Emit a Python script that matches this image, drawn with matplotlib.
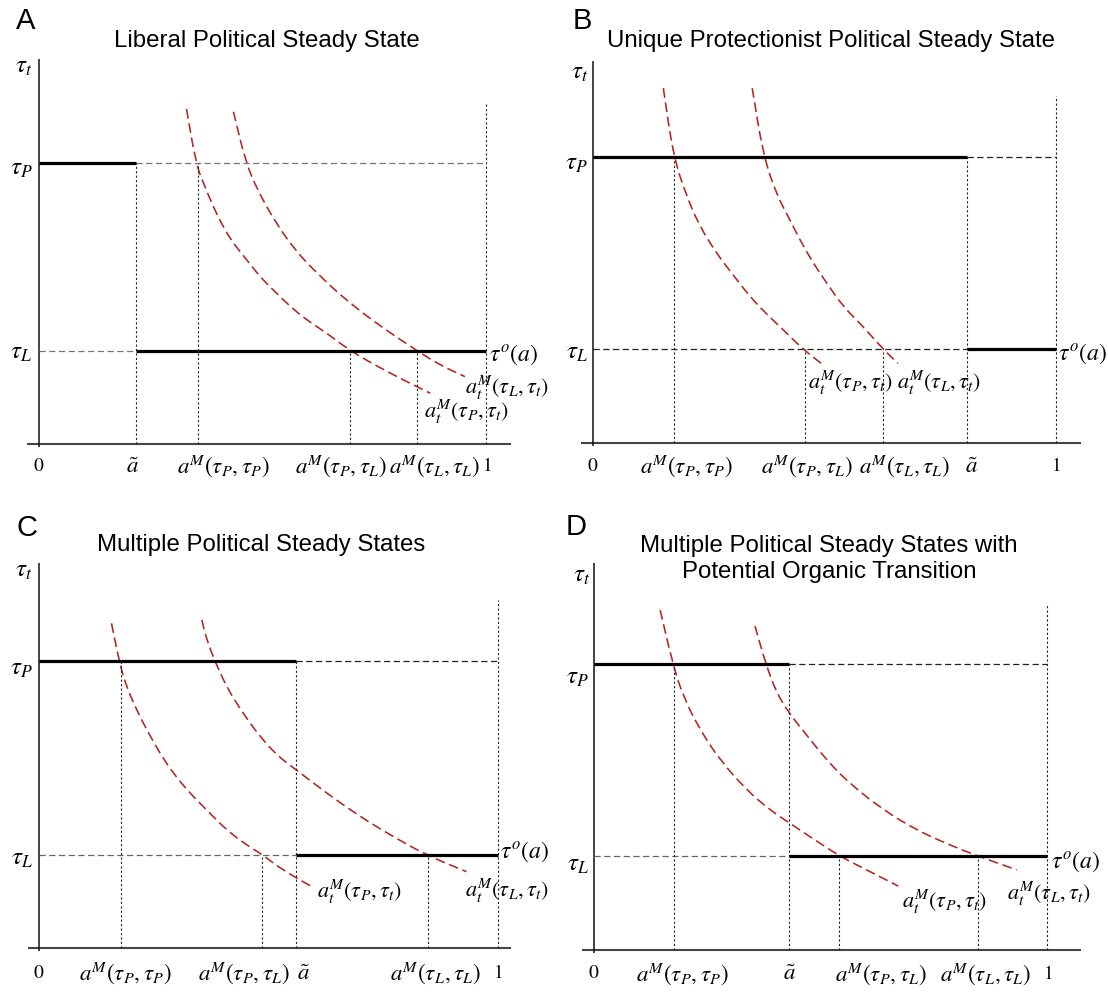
import matplotlib
matplotlib.use("Agg")
import matplotlib.pyplot as plt
from matplotlib.path import Path
from matplotlib.patches import PathPatch

plt.rcParams['mathtext.fontset'] = 'stix'
plt.rcParams['font.family'] = ['Liberation Sans', 'DejaVu Sans']
plt.rcParams['lines.scale_dashes'] = False

# ------------------------------------------------------------------ data
letters = ["A", "B", "C", "D"]
titles = ["Liberal Political Steady State",
          "Unique Protectionist Political Steady State",
          "Multiple Political Steady States",
          "Multiple Political Steady States with\nPotential Organic Transition"]

# levels (share of axis height) and thresholds (share of unit interval)
tau_P = [0.730, 0.750, 0.745, 0.738]
tau_L = [0.242, 0.246, 0.242, 0.242]
a_tilde = [0.217, 0.808, 0.560, 0.431]
a_PP = [0.356, 0.176, 0.178, 0.177]
a_PL = [0.696, 0.458, 0.486, 0.542]
a_LL = [0.846, 0.628, 0.847, 0.847]
one_top = [0.883, 0.909, 0.905, 0.895]

# a_t^M(tau_P, tau_t) and a_t^M(tau_L, tau_t) curves
curveP_x_A = [0.330, 0.351, 0.368, 0.390, 0.412, 0.435, 0.465, 0.494, 0.524, 0.562,
              0.599, 0.644, 0.696, 0.778, 0.875]
curveP_y_A = [0.870, 0.729, 0.677, 0.616, 0.564, 0.521, 0.478, 0.435, 0.400, 0.357,
              0.322, 0.288, 0.242, 0.188, 0.132]
curveL_x_A = [0.435, 0.463, 0.491, 0.524, 0.569, 0.629, 0.696, 0.770, 0.846, 0.897, 0.953]
curveL_y_A = [0.863, 0.729, 0.655, 0.586, 0.508, 0.435, 0.365, 0.301, 0.242, 0.205, 0.175]

curveP_x_B = [0.153, 0.1745, 0.2035, 0.232, 0.268, 0.304, 0.340, 0.376, 0.412, 0.455, 0.4985]
curveP_y_B = [0.929, 0.752, 0.645, 0.567, 0.497, 0.440, 0.384, 0.338, 0.297, 0.246, 0.205]
curveL_x_B = [0.345, 0.369, 0.398, 0.419, 0.448, 0.477, 0.506, 0.542, 0.578, 0.628, 0.660]
curveL_y_B = [0.929, 0.752, 0.650, 0.602, 0.532, 0.471, 0.419, 0.357, 0.314, 0.246, 0.209]

curveP_x_C = [0.158, 0.1766, 0.191, 0.213, 0.235, 0.264, 0.293, 0.329, 0.366, 0.409,
              0.453, 0.486, 0.529, 0.595]
curveP_y_C = [0.844, 0.736, 0.679, 0.619, 0.567, 0.506, 0.454, 0.403, 0.359, 0.307,
              0.268, 0.244, 0.205, 0.160]
curveL_x_C = [0.355, 0.3656, 0.387, 0.409, 0.431, 0.453, 0.482, 0.518, 0.559, 0.627,
              0.700, 0.772, 0.845, 0.932]
curveL_y_C = [0.853, 0.801, 0.736, 0.680, 0.636, 0.597, 0.550, 0.502, 0.465, 0.403,
              0.342, 0.290, 0.242, 0.199]

curveP_x_D = [0.147, 0.175, 0.198, 0.235, 0.279, 0.338, 0.389, 0.431, 0.477, 0.542, 0.602, 0.672]
curveP_y_D = [0.878, 0.738, 0.654, 0.568, 0.490, 0.412, 0.361, 0.328, 0.292, 0.242, 0.206, 0.164]
curveL_x_D = [0.356, 0.380, 0.404, 0.431, 0.463, 0.514, 0.565, 0.639, 0.712, 0.786, 0.847, 0.933]
curveL_y_D = [0.837, 0.738, 0.663, 0.612, 0.565, 0.490, 0.429, 0.361, 0.309, 0.270, 0.242, 0.206]

AM = r'$a^{M}(\tau_{P},\tau_{P})$'
APL = r'$a^{M}(\tau_{P},\tau_{L})$'
ALL = r'$a^{M}(\tau_{L},\tau_{L})$'
AT = r'$\tilde{a}$'
tick_labels = [["$0$", AT, AM, APL, ALL, "$1$"],
               ["$0$", AM, APL, ALL, AT, "$1$"],
               ["$0$", AM, APL, AT, ALL, "$1$"],
               ["$0$", AM, AT, APL, ALL, "$1$"]]

curves = [(curveP_x_A, curveP_y_A, curveL_x_A, curveL_y_A),
          (curveP_x_B, curveP_y_B, curveL_x_B, curveL_y_B),
          (curveP_x_C, curveP_y_C, curveL_x_C, curveL_y_C),
          (curveP_x_D, curveP_y_D, curveL_x_D, curveL_y_D)]

# ------------------------------------------------------------------ layout
FW, FH = 1108, 994
# origin x (px), px per unit x, baseline y (px), px per unit y
frames = [(39.0, 447.0, 444.0, 385.0),
          (592.5, 463.0, 443.4, 382.4),
          (39.0, 458.7, 948.3, 385.0),
          (593.5, 453.6, 949.5, 386.5)]
XL = (-0.12, 1.17)
YL = (-0.14, 1.05)

tick_pos = [[0, 0.210, 0.412, 0.676, 0.884, 1.002],
            [0, 0.203, 0.464, 0.674, 0.818, 1.000],
            [0, 0.188, 0.447, 0.576, 0.865, 1.001],
            [0, 0.195, 0.432, 0.634, 0.864, 1.002]]
tick_y = [-0.058, -0.060, -0.065, -0.063]
tau_lab = [[(-0.034, 0.982), (-0.040, 0.717), (-0.040, 0.239)],
           [(-0.027, 0.971), (-0.034, 0.733), (-0.034, 0.240)],
           [(-0.033, 0.983), (-0.038, 0.727), (-0.038, 0.234)],
           [(-0.027, 0.970), (-0.035, 0.706), (-0.035, 0.222)]]
tau_o_pos = [(1.007, 0.231), (1.005, 0.235), (1.005, 0.250), (1.008, 0.226)]
curve_lab = [[(0.861, 0.083), (0.953, 0.145)],
             [(0.465, 0.158), (0.657, 0.158)],
             [(0.605, 0.147), (0.929, 0.150)],
             [(0.681, 0.123), (0.911, 0.144)]]
xaxis_ext = [(-0.027, 1.056), (-0.024, 1.055), (-0.023, 1.029), (-0.025, 1.074)]
dashP_col = ['#777777', '#222222', '#222222', '#222222']
dashL_col = ['#777777', '#222222', '#666666', '#666666']
letter_px = [(26, 21), (582, 21), (27, 528), (576, 527)]
title_px = [(267, 41), (831, 41), (261, 545), (829, 559)]

RED = '#b3261e'


def smooth_path(xs, ys):
    """Quadratic B-spline path through the midpoints of the read points."""
    pts = list(zip(xs, ys))
    verts = [pts[0]]
    codes = [Path.MOVETO]
    mid = ((pts[0][0] + pts[1][0]) / 2, (pts[0][1] + pts[1][1]) / 2)
    verts.append(mid)
    codes.append(Path.LINETO)
    for k in range(1, len(pts) - 1):
        nxt = ((pts[k][0] + pts[k + 1][0]) / 2, (pts[k][1] + pts[k + 1][1]) / 2)
        verts += [pts[k], nxt]
        codes += [Path.CURVE3, Path.CURVE3]
    verts.append(pts[-1])
    codes.append(Path.LINETO)
    return Path(verts, codes)


fig = plt.figure(figsize=(FW / 100, FH / 100), dpi=100)

for i in range(4):
    ox, sx, by, sy = frames[i]
    left = (ox + XL[0] * sx) / FW
    width = (XL[1] - XL[0]) * sx / FW
    bottom = 1 - (by - YL[0] * sy) / FH
    height = (YL[1] - YL[0]) * sy / FH
    ax = fig.add_axes([left, bottom, width, height])
    ax.set_xlim(*XL)
    ax.set_ylim(*YL)
    ax.axis('off')

    tp, tl, at = tau_P[i], tau_L[i], a_tilde[i]
    # axes
    ax.plot(list(xaxis_ext[i]), [0, 0], color='#444444', lw=1.5, solid_capstyle='butt')
    ax.plot([0, 0], [-0.008, 1.0], color='#111111', lw=1.1, solid_capstyle='butt')
    # dashed level guides
    ax.plot([at, 1], [tp, tp], color=dashP_col[i], lw=0.9, dashes=(4.5, 2.5))
    ax.plot([0, at], [tl, tl], color=dashL_col[i], lw=0.9, dashes=(4.5, 2.5))
    # vertical dotted guides
    dot = dict(color='#222222', lw=0.8, dashes=(1.6, 1.6))
    ax.plot([at, at], [0, tp], **dot)
    ax.plot([a_PP[i], a_PP[i]], [0, tp], **dot)
    ax.plot([a_PL[i], a_PL[i]], [0, tl], **dot)
    ax.plot([a_LL[i], a_LL[i]], [0, tl], **dot)
    ax.plot([1, 1], [0, one_top[i]], **dot)
    # tau^o(a) step
    ax.plot([0, at], [tp, tp], color='black', lw=2.3, solid_capstyle='butt')
    ax.plot([at, 1], [tl, tl], color='black', lw=2.3, solid_capstyle='butt')
    # a_t^M curves
    px, py, lx, ly = curves[i]
    for cx, cy in ((px, py), (lx, ly)):
        ax.add_patch(PathPatch(smooth_path(cx, cy), fill=False, edgecolor=RED,
                               lw=1.15, linestyle=(0, (7.0, 3.4)), capstyle='butt'))

    # texts
    for lab, x in zip(tick_labels[i], tick_pos[i]):
        fs = 14 if lab in ("$0$", "$1$") else 16.5
        ax.text(x, tick_y[i], lab, ha='center', va='center', fontsize=fs)
    (xt, yt), (xp, yp), (xl, yl) = tau_lab[i]
    ax.text(xt, yt, r'$\tau_{t}$', ha='center', va='center', fontsize=18)
    ax.text(xp, yp, r'$\tau_{P}$', ha='center', va='center', fontsize=18)
    ax.text(xl, yl, r'$\tau_{L}$', ha='center', va='center', fontsize=18)
    ax.text(*tau_o_pos[i], r'$\tau^{o}(a)$', ha='left', va='center', fontsize=17)
    (cpx, cpy), (clx, cly) = curve_lab[i]
    ax.text(cpx, cpy, r'$a_{t}^{M}(\tau_{P},\tau_{t})$', ha='left', va='center', fontsize=16)
    ax.text(clx, cly, r'$a_{t}^{M}(\tau_{L},\tau_{t})$', ha='left', va='center', fontsize=16)

    lx_, ly_ = letter_px[i]
    fig.text(lx_ / FW, 1 - ly_ / FH, letters[i], ha='center', va='center', fontsize=21)
    tx_, ty_ = title_px[i]
    fig.text(tx_ / FW, 1 - ty_ / FH, titles[i], ha='center', va='center', fontsize=17.3,
             linespacing=1.28)

fig.savefig("out.png", dpi=100)
